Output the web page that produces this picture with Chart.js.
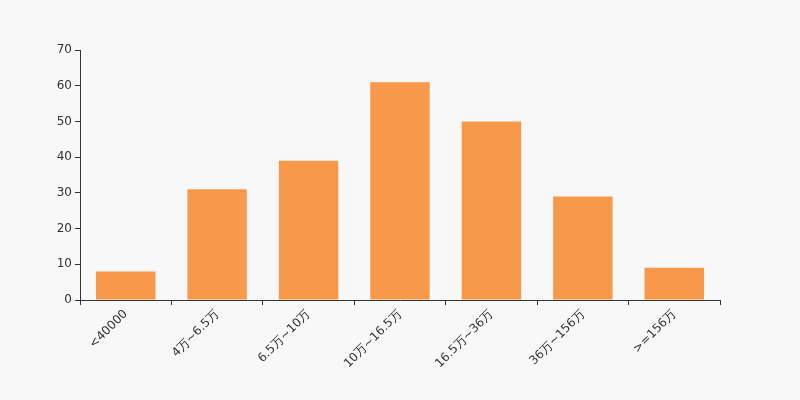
<!DOCTYPE html>
<html>
<head>
<meta charset="utf-8">
<script src="https://cdn.jsdelivr.net/npm/chart.js@4"></script>
<style>
  html, body { margin: 0; padding: 0; background: #f8f8f8; }
  #wrap { width: 800px; height: 400px; }
</style>
</head>
<body>
<div id="wrap"><canvas id="chart" width="800" height="400"></canvas></div>
<script>
const categories = ['<40000', '4万~6.5万', '6.5万~10万', '10万~16.5万', '16.5万~36万', '36万~156万', '>=156万'];
const counts = [8, 31, 39, 61, 50, 29, 9];
const yTicks = [0, 10, 20, 30, 40, 50, 60, 70];

const axisColor = '#333333';
const fontSpec = { family: 'DejaVu Sans', size: 12 };

new Chart(document.getElementById('chart').getContext('2d'), {
    type: 'bar',
    data: {
        labels: categories,
        datasets: [{
            data: counts,
            backgroundColor: '#f8984a',
            borderWidth: 0,
            categoryPercentage: 1,
            barPercentage: 0.65
        }]
    },
    options: {
        responsive: false,
        animation: false,
        layout: { padding: { top: 50, right: 80, left: 0, bottom: 0 } },
        plugins: {
            legend: { display: false },
            tooltip: { enabled: false }
        },
        scales: {
            x: {
                grid: {
                    drawOnChartArea: false,
                    drawTicks: true,
                    tickLength: 5,
                    color: axisColor,
                    offset: true
                },
                border: { display: true, color: axisColor, width: 1 },
                ticks: {
                    color: axisColor,
                    font: fontSpec,
                    minRotation: 45,
                    maxRotation: 45,
                    autoSkip: false,
                    padding: 2
                },
                afterFit: scale => { scale.height = 100; }
            },
            y: {
                min: yTicks[0],
                max: yTicks[yTicks.length - 1],
                grid: {
                    drawOnChartArea: false,
                    drawTicks: true,
                    tickLength: 5,
                    color: axisColor
                },
                border: { display: true, color: axisColor, width: 1 },
                ticks: {
                    stepSize: 10,
                    color: axisColor,
                    font: fontSpec,
                    padding: 3
                },
                afterFit: scale => { scale.width = 80; }
            }
        }
    }
});
</script>
</body>
</html>
